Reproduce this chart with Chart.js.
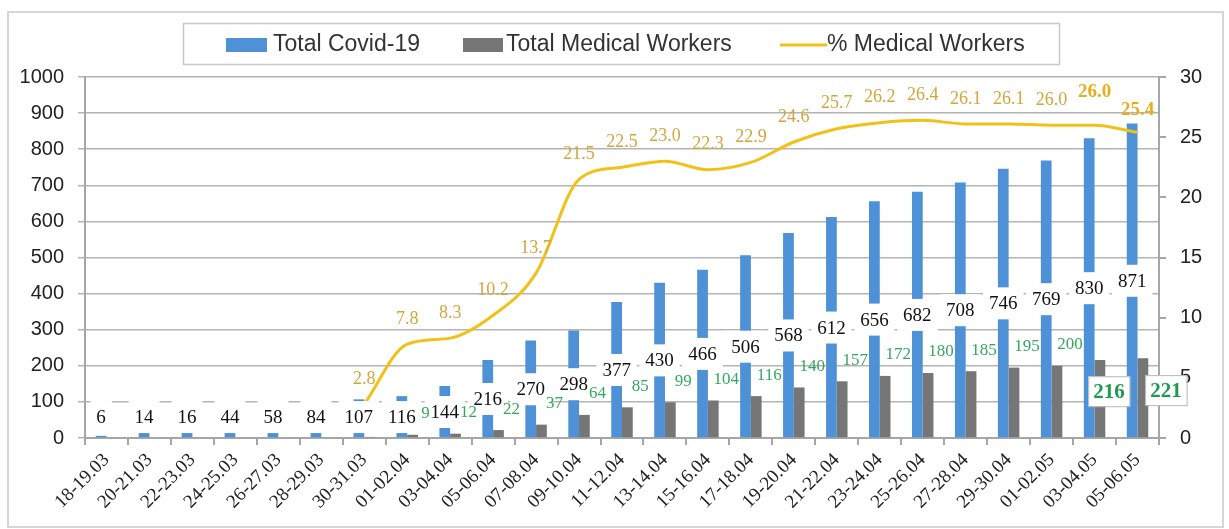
<!DOCTYPE html>
<html>
<head>
<meta charset="utf-8">
<script src="https://cdn.jsdelivr.net/npm/chart.js@4.4.1/dist/chart.umd.min.js"></script>
<style>
  html, body { margin: 0; padding: 0; background: #fff; }
  #wrap { width: 1229px; height: 529px; position: relative; }
</style>
</head>
<body>
<div id="wrap"><canvas id="chart"></canvas></div>
<script>
const categories = [
  "18-19.03", "20-21.03", "22-23.03", "24-25.03", "26-27.03", "28-29.03", "30-31.03",
  "01-02.04", "03-04.04", "05-06.04", "07-08.04", "09-10.04", "11-12.04", "13-14.04",
  "15-16.04", "17-18.04", "19-20.04", "21-22.04", "23-24.04", "25-26.04", "27-28.04",
  "29-30.04", "01-02.05", "03-04.05", "05-06.05"
];
const totalCovid = [6, 14, 16, 44, 58, 84, 107, 116, 144, 216, 270, 298, 377, 430, 466, 506, 568, 612, 656, 682, 708, 746, 769, 830, 871];
const medicalWorkers = [0, 0, 0, 0, 0, 0, 3, 9, 12, 22, 37, 64, 85, 99, 104, 116, 140, 157, 172, 180, 185, 195, 200, 216, 221];
const pctMedical = [null, null, null, null, null, null, 2.8, 7.8, 8.3, 10.2, 13.7, 21.5, 22.5, 23.0, 22.3, 22.9, 24.6, 25.7, 26.2, 26.4, 26.1, 26.1, 26.0, 26.0, 25.4];
const leftTicks = { min: 0, max: 1000, step: 100 };
const rightTicks = { min: 0, max: 30, step: 5 };

const BLUE = "#4e91d6";
const GRAY = "#767676";
const GOLD = "#f2c118";
const AXIS = "#a6a6a6";
const SERIF = '"Liberation Serif", "Times New Roman", serif';
const SANS = '"Liberation Sans", Arial, sans-serif';

// outer frame + legend drawn by hand (Excel style box legend)
const frameLegend = {
  id: "frameLegend",
  afterDraw(chart) {
    const ctx = chart.ctx;
    ctx.save();
    ctx.strokeStyle = "#d6d6d6";
    ctx.lineWidth = 2;
    ctx.strokeRect(8, 12, 1215, 515);

    ctx.strokeStyle = "#c8c8c8";
    ctx.lineWidth = 1.5;
    ctx.strokeRect(183.5, 23.5, 876, 41);

    ctx.font = "23px " + SANS;
    ctx.textBaseline = "middle";
    ctx.textAlign = "left";
    const yMid = 45;
    ctx.fillStyle = BLUE;
    ctx.fillRect(226, 38, 41, 14);
    ctx.fillStyle = "#333";
    ctx.fillText("Total Covid-19", 273, yMid);
    ctx.fillStyle = GRAY;
    ctx.fillRect(463, 38, 40, 14);
    ctx.fillStyle = "#333";
    ctx.fillText("Total Medical Workers", 506, yMid);
    ctx.strokeStyle = GOLD;
    ctx.lineWidth = 3;
    ctx.beginPath();
    ctx.moveTo(780, 45);
    ctx.lineTo(827, 45);
    ctx.stroke();
    ctx.fillText("% Medical Workers", 827, yMid);
    ctx.restore();
  }
};

const valueLabels = {
  id: "valueLabels",
  afterDatasetsDraw(chart) {
    const ctx = chart.ctx;
    const y = chart.scales.y;
    const blueMeta = chart.getDatasetMeta(0);
    const grayMeta = chart.getDatasetMeta(1);
    const lineMeta = chart.getDatasetMeta(2);
    ctx.save();
    ctx.textAlign = "center";
    ctx.textBaseline = "middle";

    // total labels, centred in the blue bar on a white box
    ctx.font = "19px " + SERIF;
    totalCovid.forEach((v, i) => {
      const bar = blueMeta.data[i];
      const cy = y.getPixelForValue(Math.max(v / 2, 58));
      const w = ctx.measureText(String(v)).width + 12;
      ctx.fillStyle = "#fff";
      ctx.fillRect(bar.x - w / 2, cy - 16, w, 32);
      ctx.fillStyle = "#111";
      ctx.fillText(String(v), bar.x, cy + 1);
    });

    // medical worker labels
    const n = medicalWorkers.length;
    medicalWorkers.forEach((v, i) => {
      if (v < 5) return;
      const bar = grayMeta.data[i];
      if (i >= n - 2) {
        ctx.font = "bold 21px " + SERIF;
        const dx = i === n - 1 ? 23 : 9;
        const cx = bar.x + dx;
        const cy = y.getPixelForValue(v * 0.6);
        const w = ctx.measureText(String(v)).width + 10;
        ctx.fillStyle = "#fff";
        ctx.fillRect(cx - w / 2, cy - 15, w, 30);
        ctx.strokeStyle = "#b8b8b8";
        ctx.lineWidth = 1;
        ctx.strokeRect(cx - w / 2 + 0.5, cy - 15 + 0.5, w, 30);
        ctx.fillStyle = "#1f9a52";
        ctx.fillText(String(v), cx, cy + 1);
      } else {
        ctx.font = "17px " + SERIF;
        ctx.fillStyle = "#35a85e";
        ctx.fillText(String(v), bar.x + 13, y.getPixelForValue(v) - 21);
      }
    });

    // percentage labels above the line
    lineMeta.data.forEach((pt, i) => {
      const v = pctMedical[i];
      if (v == null) return;
      let off = 25;
      if (i === n - 2) {
        ctx.font = "bold 19px " + SERIF;
        ctx.fillStyle = "#e4ae1c";
        off = 33;
      } else if (i === n - 1) {
        ctx.font = "bold 19px " + SERIF;
        ctx.fillStyle = "#e4ae1c";
        off = 22;
      } else {
        ctx.font = "18px " + SERIF;
        ctx.fillStyle = "#d2a63c";
      }
      ctx.fillText(v.toFixed(1), pt.x, pt.y - off);
    });
    ctx.restore();
  }
};

new Chart(document.getElementById("chart"), {
  type: "bar",
  data: {
    labels: categories,
    datasets: [
      {
        label: "Total Covid-19",
        data: totalCovid,
        backgroundColor: BLUE,
        yAxisID: "y",
        order: 2,
        categoryPercentage: 0.5,
        barPercentage: 1.0
      },
      {
        label: "Total Medical Workers",
        data: medicalWorkers,
        backgroundColor: GRAY,
        yAxisID: "y",
        order: 2,
        categoryPercentage: 0.5,
        barPercentage: 1.0
      },
      {
        type: "line",
        label: "% Medical Workers",
        data: pctMedical,
        borderColor: GOLD,
        borderWidth: 3,
        pointRadius: 0,
        cubicInterpolationMode: "monotone",
        yAxisID: "y1",
        order: 1
      }
    ]
  },
  options: {
    responsive: true,
    maintainAspectRatio: false,
    animation: false,
    layout: { padding: { top: 77, left: 0, right: 0, bottom: 0 } },
    plugins: {
      legend: { display: false },
      tooltip: { enabled: false }
    },
    scales: {
      x: {
        grid: { drawOnChartArea: false, drawTicks: true, tickLength: 7, color: AXIS, lineWidth: 2 },
        border: { color: AXIS, width: 2 },
        ticks: {
          autoSkip: false,
          minRotation: 45,
          maxRotation: 45,
          padding: 4,
          color: "#222",
          font: { family: SERIF, size: 19 }
        },
        afterFit(s) { s.height = 91; }
      },
      y: {
        position: "left",
        min: leftTicks.min,
        max: leftTicks.max,
        ticks: {
          stepSize: leftTicks.step,
          padding: 14,
          color: "#222",
          font: { family: SANS, size: 20 },
          callback: (v) => String(v)
        },
        grid: { color: "#b4b4b4", lineWidth: 1.5, tickLength: 7 },
        border: { color: AXIS, width: 2 },
        afterFit(s) { s.width = 85; }
      },
      y1: {
        position: "right",
        min: rightTicks.min,
        max: rightTicks.max,
        ticks: { stepSize: rightTicks.step, padding: 14, color: "#222", font: { family: SANS, size: 20 } },
        grid: { drawOnChartArea: false, color: AXIS, lineWidth: 2, tickLength: 7 },
        border: { color: AXIS, width: 2 },
        afterFit(s) { s.width = 70; }
      }
    }
  },
  plugins: [valueLabels, frameLegend]
});
</script>
</body>
</html>
